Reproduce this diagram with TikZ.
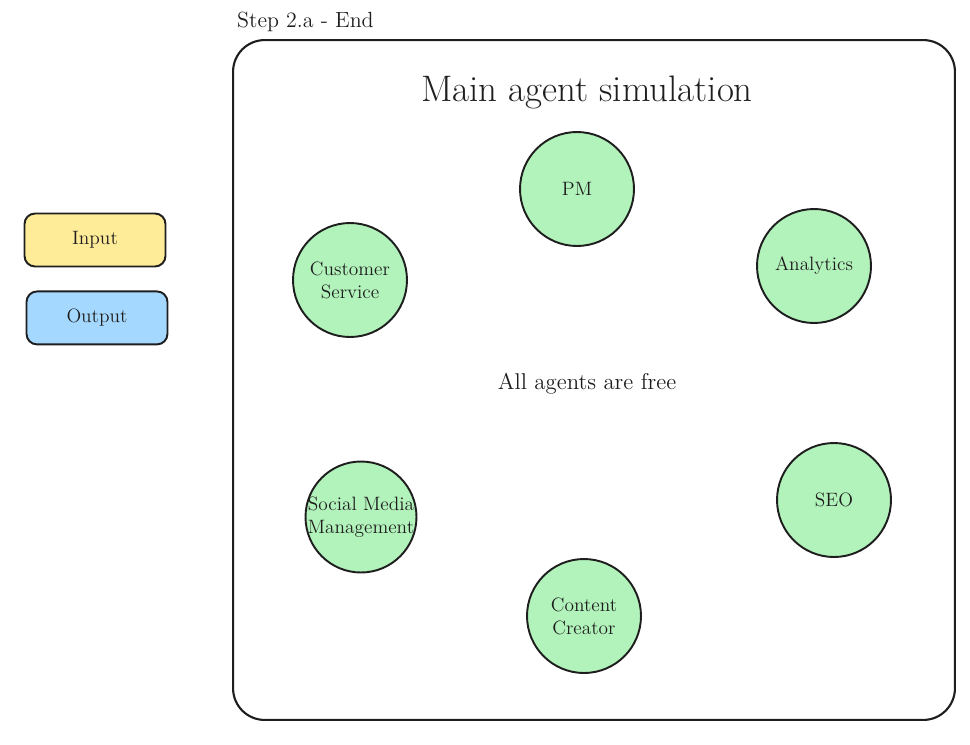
\documentclass[tikz,border=0pt]{standalone}
\usepackage{xcolor}
\usetikzlibrary{positioning}
\definecolor{ink}{HTML}{1E1E1E}
\definecolor{agentgreen}{HTML}{B2F2BB}
\definecolor{inyellow}{HTML}{FFEC99}
\definecolor{outblue}{HTML}{A5D8FF}

\begin{document}
\begin{tikzpicture}[x=0.02cm, y=-0.02cm, font=\fontsize{11}{13}\selectfont]
        \tikzset{agent/.style={circle,draw=ink,line width=1.1pt,fill=agentgreen,minimum size=2.28cm,inner sep=1pt,align=center,text=ink}}
        \tikzset{legend/.style={rounded corners=6pt,draw=ink,line width=1.1pt,minimum width=2.82cm,minimum height=1.06cm,text=ink}}
        \useasboundingbox (0,0) rectangle (970,744);

        % frame
        \node[draw=ink,line width=1.2pt,rounded corners=18pt,minimum width=14.44cm,minimum height=13.6cm] (frame) at (594,380) {};
        \node[text=ink,anchor=south west,font=\fontsize{12.5}{15}\selectfont] (step) at (231,38) {Step 2.a - End};
        \node[text=ink,font=\fontsize{21}{25}\selectfont] (title) at (587,92) {Main agent simulation};
        \node[text=ink,font=\fontsize{13}{15}\selectfont] (free) at (587,384) {All agents are free};

        % agents
        \node[agent] (pm) at (577,189) {PM};
        \node[agent] (analytics) at (814,266) {Analytics};
        \node[agent] (cs) at (350,280) {Customer\\Service};
        \node[agent,minimum size=2.22cm,inner sep=-8pt] (smm) at (361,517) {Social Media\\Management};
        \node[agent] (seo) at (834,500) {SEO};
        \node[agent] (cc) at (584,616) {Content\\Creator};

        % legend
        \node[legend,fill=inyellow] (input) at (95,240) {Input};
        \node[legend,fill=outblue] (output) [below = 0.46cm of input.south, anchor=north, xshift=0.04cm] {Output};

\end{tikzpicture}
\end{document}
